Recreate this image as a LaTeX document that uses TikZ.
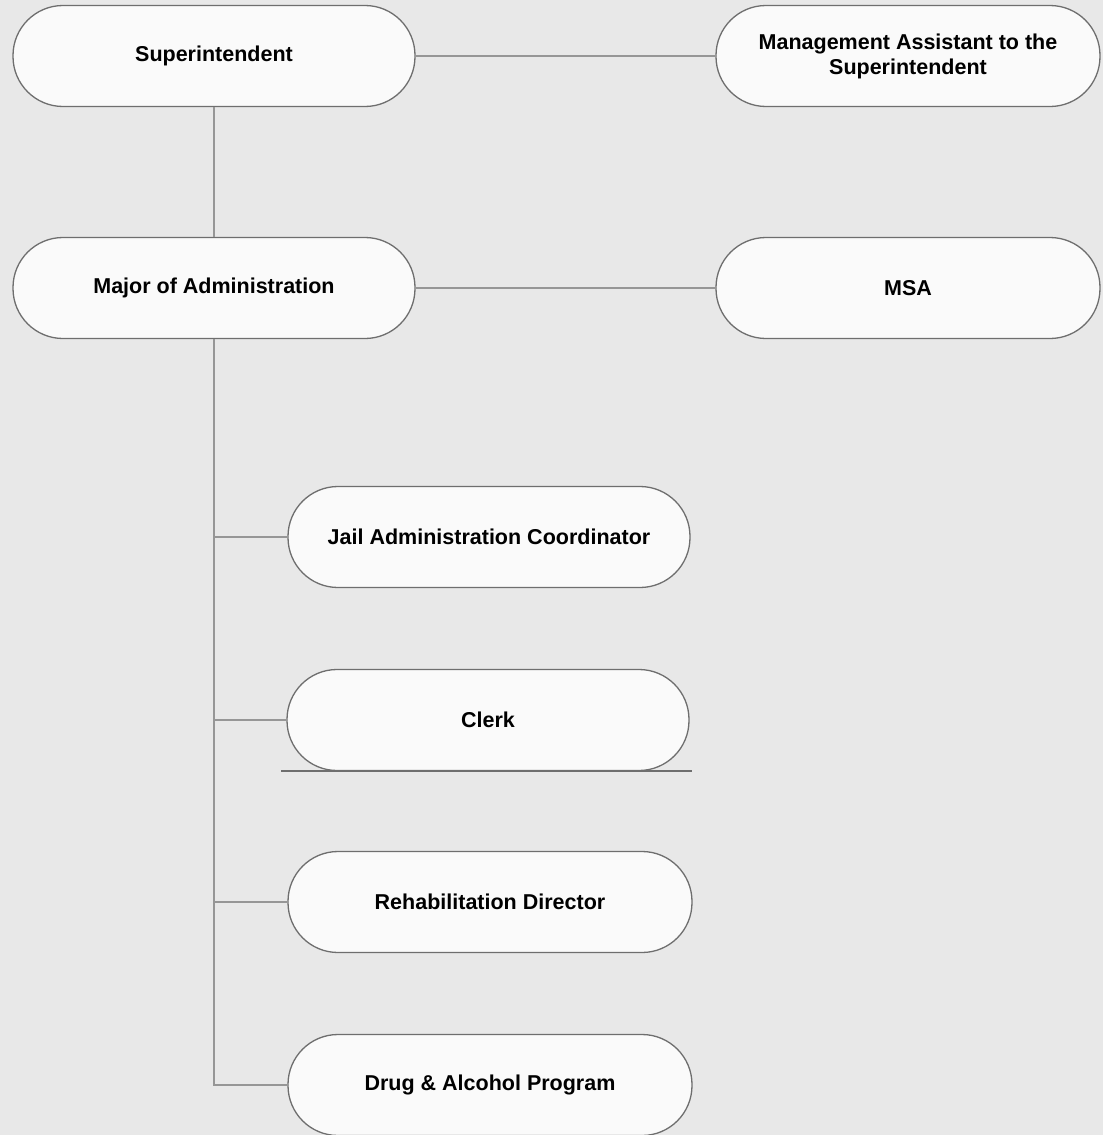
\documentclass[tikz,border=0pt]{standalone}
\usepackage{fontspec}
\setmainfont{Liberation Sans}
\definecolor{bgc}{RGB}{232,232,232}
\definecolor{boxfill}{RGB}{250,250,250}
\definecolor{boxline}{RGB}{110,110,110}
\definecolor{linkc}{RGB}{150,150,150}
\begin{document}
\begin{tikzpicture}[x=1pt,y=-1pt,
  role/.style={draw=boxline, line width=1.3pt, fill=boxfill, rounded corners=50pt,
    minimum height=101pt, inner sep=0pt, align=center,
    font=\fontsize{21.5}{25}\selectfont\bfseries, text=black},
  link/.style={draw=linkc, line width=1.3pt}]
\fill[bgc] (0,0) rectangle (1103,1135);
\useasboundingbox (0,0) rectangle (1103,1135);
\node[role, minimum width=402pt] (sup) at (214,56) {Superintendent};
\node[role, minimum width=384pt] (mas) at (908,56) {Management Assistant to the\\Superintendent};
\node[role, minimum width=402pt] (maj) at (214,288) {Major of Administration};
\node[role, minimum width=384pt] (msa) at (908,288) {MSA};
\node[role, minimum width=402pt] (jac) at (489,537) {Jail Administration Coordinator};
\node[role, minimum width=402pt] (clk) at (488,720) {Clerk};
\node[role, minimum width=404pt] (reh) at (490,902) {Rehabilitation Director};
\node[role, minimum width=404pt] (dap) at (490,1085) {Drug \& Alcohol Program};
\draw[link] (sup.east) -- (mas.west);
\draw[link] (sup.south) -- (maj.north);
\draw[link] (maj.east) -- (msa.west);
\coordinate (trunk) at (214,1085);
\draw[link] (maj.south) -- (trunk) -- (dap.west);
\draw[link] (maj.south |- jac.west) -- (jac.west);
\draw[link] (maj.south |- clk.west) -- (clk.west);
\draw[link] (maj.south |- reh.west) -- (reh.west);
\draw[draw=boxline, line width=1.5pt] ([xshift=-5pt]clk.south west) -- ([xshift=2pt]clk.south east);
\end{tikzpicture}
\end{document}
